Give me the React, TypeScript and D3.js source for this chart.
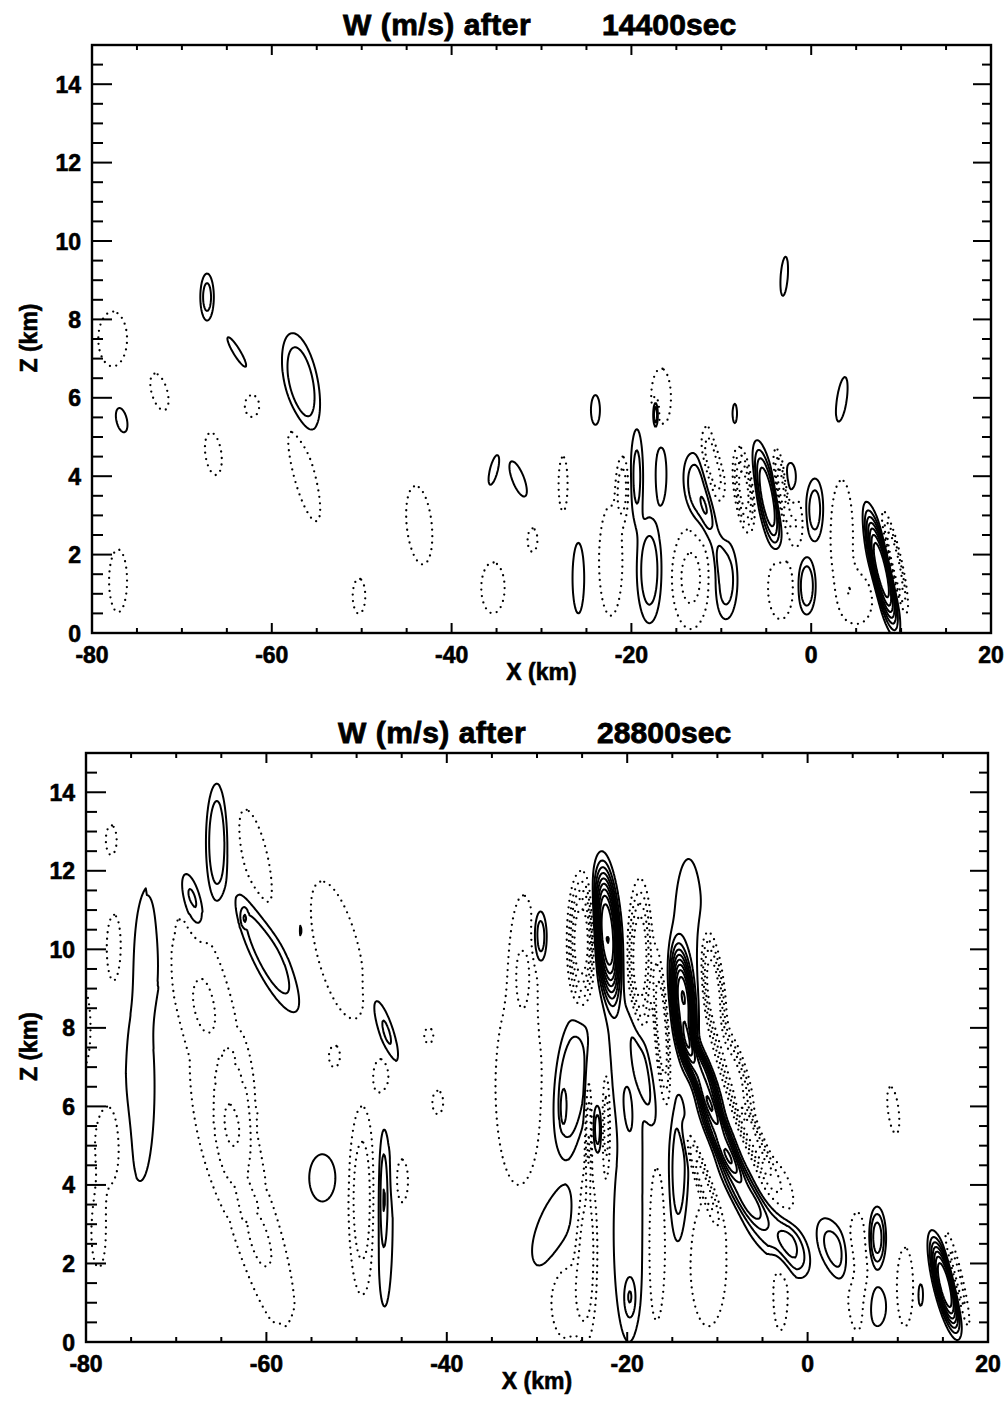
import React, { useMemo } from "react";
import * as d3 from "d3";

type Cell = [number, number, number, number, number, number];

// Axis tick values
const X_MAJOR = [-80, -60, -40, -20, 0, 20];
const X_MINOR = [-75, -70, -65, -55, -50, -45, -35, -30, -25, -15, -10, -5, 5, 10, 15];
const Z_MAJOR = [0, 2, 4, 6, 8, 10, 12, 14];
const Z_MINOR = [0.5, 1, 1.5, 2.5, 3, 3.5, 4.5, 5, 5.5, 6.5, 7, 7.5, 8.5, 9, 9.5, 10.5, 11, 11.5, 12.5, 13, 13.5, 14.5];

// contour levels (m/s); negative levels are drawn dotted
const POS_LEVELS = [1, 2, 3, 4, 5, 6, 7, 8, 9, 10, 11, 12];
const NEG_LEVELS = [1, 2, 3, 4, 5, 6, 7, 8];

// W features:
// [x km, z km, outer half-width km, outer half-height km, peak (contour count, negative = downdraft), tilt dx/dz]
const CELLS_14400: Cell[] = [
  [-67.2, 8.57, 0.75, 0.6, 2.4, 0],
  [-77.7, 7.5, 1.6, 0.7, -1.5, 0],
  [-76.7, 5.43, 0.6, 0.31, 1.5, -0.8],
  [-72.5, 6.15, 0.9, 0.47, -1.5, -1],
  [-63.9, 7.17, 0.45, 0.38, 1.5, -2.5],
  [-62.2, 5.79, 0.8, 0.28, -1.5, 0],
  [-56.75, 6.4, 1.9, 1.25, 2.95, -0.75],
  [-66.5, 4.57, 0.9, 0.54, -1.5, -0.5],
  [-56.4, 4.05, 1.2, 1.2, -1.5, -1.1],
  [-43.6, 2.75, 1.4, 1.0, -1.4, -0.4],
  [-50.3, 0.94, 0.7, 0.45, -1.4, 0],
  [-77.1, 1.33, 1.0, 0.8, -1.5, 0],
  [-35.3, 4.16, 0.45, 0.38, 1.5, 1.0],
  [-32.6, 3.93, 0.7, 0.45, 1.5, -1.5],
  [-35.4, 1.15, 1.3, 0.65, -1.4, 0],
  [-31.0, 2.37, 0.55, 0.3, -1.3, 0],
  [-27.6, 3.8, 0.5, 0.7, -1.6, 0],
  [-25.9, 1.4, 0.65, 0.9, 1.5, 0],
  [-24.0, 5.69, 0.5, 0.38, 1.5, 0],
  [-22.3, 1.84, 1.3, 1.4, -1.8, 0],
  [-21.0, 3.7, 0.7, 0.8, -2.4, 0],
  [-19.4, 4.0, 0.7, 1.2, 2.3, 0],
  [-18.0, 1.6, 1.4, 1.35, 2.6, 0],
  [-16.7, 4.05, 0.6, 0.75, 1.5, 0],
  [-16.7, 6.0, 1.1, 0.75, -1.8, 0],
  [-17.3, 5.6, 0.35, 0.4, 4, 0],
  [-13.4, 1.4, 2.1, 1.3, -2.2, 0],
  [-12.5, 3.6, 1.6, 1.0, 2.9, -0.6],
  [-10.9, 2.45, 0.6, 0.6, 1.4, -1],
  [-9.5, 1.35, 1.3, 1.0, 2.5, 0],
  [-10.9, 4.3, 1.3, 1.0, -3, -0.5],
  [-10.25, 4.85, 0.6, 0.6, 1.5, -0.5],
  [-8.5, 5.6, 0.25, 0.25, 1.4, 0],
  [-4.9, 3.47, 1.2, 1.45, 5, -0.77],
  [-7.5, 3.65, 1.1, 1.1, -4.5, -0.5],
  [-3.3, 3.7, 0.7, 1.0, -3.5, -0.6],
  [-2.3, 3.97, 0.6, 0.37, 1.5, 0],
  [-1.7, 2.8, 0.8, 0.6, -2, 0],
  [0.4, 3.14, 1.0, 0.8, 2.5, 0],
  [-3.4, 1.15, 1.4, 0.8, -2, 0],
  [-0.5, 1.2, 1.0, 0.73, 2.8, 0],
  [3.4, 2.45, 1.25, 1.45, -1.5, 0],
  [3.4, 5.95, 0.55, 0.58, 1.5, 0.6],
  [-3.0, 9.1, 0.4, 0.5, 1.4, 0.3],
  [7.8, 1.6, 1.3, 1.75, 8, -0.95],
  [9.3, 1.8, 0.8, 1.3, -4, -0.95],
  [5.3, 0.85, 1.5, 0.6, -1.5, 0],
];

const CELLS_28800: Cell[] = [
  [-77.2, 12.78, 0.6, 0.38, -1.4, 0],
  [-76.9, 10.03, 0.8, 0.85, -1.4, 0],
  [-72.9, 10.3, 1.4, 1.3, 1.5, 0],
  [-74.0, 6.5, 1.6, 2.4, 1.5, 0],
  [-77.5, 5.0, 1.5, 1.0, -1.5, 0],
  [-78.6, 2.8, 0.8, 0.9, -1.5, 0],
  [-80.3, 8.0, 0.8, 1.0, -1.3, 0],
  [-68.2, 11.18, 1.1, 0.8, 2.6, -1.0],
  [-65.5, 12.73, 1.2, 1.49, 2.9, 0],
  [-61.2, 12.3, 1.4, 1.26, -1.4, -0.9],
  [-59.9, 9.93, 2.0, 1.53, 2.8, -1.9],
  [-62.5, 10.8, 0.25, 0.15, 1.2, 0],
  [-56.2, 10.5, 0.2, 0.25, 1.5, 0],
  [-52.1, 9.98, 2.4, 1.75, -1.4, -1.0],
  [-68.3, 9.5, 1.9, 1.3, -1.2, -1.0],
  [-65.3, 7.0, 2.4, 1.8, -1.2, -0.6],
  [-62.8, 4.0, 2.2, 1.6, -1.2, -1.2],
  [-59.5, 1.7, 1.5, 1.3, -1.2, -1.2],
  [-63.4, 6.0, 1.1, 0.9, -1.15, 0],
  [-53.8, 4.18, 1.45, 0.6, 1.5, 0],
  [-46.9, 8.0, 0.9, 0.85, 2.3, -1.4],
  [-47.2, 6.7, 0.8, 0.45, -1.4, 0],
  [-52.5, 7.25, 0.55, 0.25, -1.3, 0],
  [-42.0, 7.8, 0.5, 0.2, -1.3, 0],
  [-41.0, 6.1, 0.6, 0.3, -1.3, 0],
  [-46.9, 3.1, 0.9, 2.2, 1.6, 0],
  [-47.0, 3.7, 0.3, 0.9, 1.5, 0],
  [-49.4, 3.6, 1.5, 2.4, -2.5, 0],
  [-45.0, 4.1, 0.7, 0.55, -1.4, 0],
  // central storm complex: updrafts
  [-29.7, 10.3, 0.8, 0.72, 2.9, 0],
  [-22.2, 10.4, 1.7, 2.1, 10, -0.3],
  [-13.2, 10.4, 1.6, 1.9, 1.6, 0],
  [-13.8, 8.6, 1.5, 1.7, 9, -0.4],
  [-11.8, 6.8, 1.5, 1.3, 7, -1.6],
  [-9.8, 5.3, 1.5, 1.2, 6, -1.8],
  [-7.5, 4.0, 1.8, 1.0, 4, -2],
  [-4.3, 2.9, 2.4, 0.85, 2.6, -2],
  [-1.5, 2.3, 1.6, 0.65, 2.2, -1],
  [3.0, 2.35, 1.7, 0.8, 2.4, -1.3],
  [7.7, 2.65, 1.0, 0.8, 3.5, 0],
  [7.7, 0.9, 1.0, 0.5, 1.5, 0],
  [12.5, 1.2, 0.3, 0.3, 1.4, 0],
  [15.2, 1.45, 1.3, 1.4, 8, -1.0],
  [-26.2, 6.5, 2.1, 1.85, 2.9, 0.4],
  [-27.1, 5.95, 0.2, 0.3, 1.3, 0],
  [-23.3, 5.4, 0.45, 0.6, 2.5, 0],
  [-28.4, 2.9, 2.0, 1.0, 1.8, 1.3],
  [-19.8, 2.8, 1.7, 2.8, 1.6, 0],
  [-19.7, 1.1, 0.5, 0.4, 1.6, 0],
  [-14.3, 4.4, 1.1, 1.9, 2.5, 0],
  [-20.5, 7.0, 1.3, 1.5, 1.5, -0.5],
  [-18.3, 7.0, 0.9, 1.5, 2.2, -0.8],
  // central storm complex: downdrafts
  [-31.5, 10.0, 1.2, 1.3, -1.5, 0],
  [-25.1, 10.2, 1.6, 1.8, -6, 0],
  [-18.6, 9.8, 1.4, 2.0, -5, 0],
  [-16.2, 8.0, 0.8, 2.0, -4, -0.3],
  [-10.5, 9.0, 1.3, 1.6, -5, -0.5],
  [-8.1, 6.8, 1.5, 1.3, -4.5, -1.2],
  [-6.1, 5.2, 1.2, 1.0, -4, -1.8],
  [-3.5, 4.0, 1.6, 0.7, -2, -1.5],
  [-11.9, 4.3, 0.8, 1.2, -3, -1.5],
  [-32.0, 6.5, 2.6, 2.5, -1.5, 0],
  [-26.8, 1.0, 1.6, 0.9, -1.5, 0],
  [-24.5, 2.3, 1.2, 2.2, -2.5, 0],
  [-24.3, 5.6, 0.4, 1.6, -3, 0],
  [-22.3, 5.5, 0.45, 1.5, -2.5, 0],
  [-16.8, 2.5, 1.0, 2.0, -2, 0],
  [-11.0, 2.0, 2.0, 1.6, -1.8, 0],
  [-3.0, 1.2, 0.8, 0.9, -1.3, 0],
  [5.5, 1.8, 1.2, 1.5, -1.8, 0],
  [10.8, 1.4, 0.9, 1.0, -1.5, 0],
  [16.6, 1.6, 0.6, 1.2, -2.5, -1.0],
  [9.5, 5.9, 0.6, 0.6, -1.2, -0.5],
];

const NX = 801;
const NZ = 376;
const XMIN = -80;
const XMAX = 20;
const ZMAX = 15;
const DXK = (XMAX - XMIN) / (NX - 1);
const DZK = ZMAX / (NZ - 1);

function buildField(cells: Cell[]) {
  const v = new Float64Array(NX * NZ);
  for (const [xc, zc, rx, rz, a, tilt] of cells) {
    const la = Math.log(Math.abs(a));
    const j0 = Math.max(0, Math.floor((zc - 2.2 * rz) / DZK));
    const j1 = Math.min(NZ - 1, Math.ceil((zc + 2.2 * rz) / DZK));
    for (let j = j0; j <= j1; j++) {
      const z = j * DZK;
      const dz = (z - zc) / rz;
      if (Math.abs(dz) > 2.2) continue;
      const xs = xc + tilt * (z - zc);
      const i0 = Math.max(0, Math.floor((xs - 2.2 * rx - XMIN) / DXK));
      const i1 = Math.min(NX - 1, Math.ceil((xs + 2.2 * rx - XMIN) / DXK));
      for (let i = i0; i <= i1; i++) {
        const x = XMIN + i * DXK;
        const u = (x - xs) / rx;
        const r2 = u * u + dz * dz;
        if (r2 > 4.84) continue;
        const r = Math.sqrt(r2);
        v[j * NX + i] += a * Math.exp(-la * r2 * r);
      }
    }
  }
  return v;
}

const FONT = "'Liberation Sans', Arial, Helvetica, sans-serif";

function Panel(props: {
  id: string;
  left: number;
  right: number;
  top: number;
  bottom: number;
  cells: Cell[];
  time: string;
  titleX: number;
  timeX: number;
  titleY: number;
}) {
  const { id, left, right, top, bottom, cells, time, titleX, timeX, titleY } = props;
  const x = d3.scaleLinear().domain([XMIN, XMAX]).range([left, right]);
  const y = d3.scaleLinear().domain([0, ZMAX]).range([bottom, top]);

  const { pos, neg } = useMemo(() => {
    const f = buildField(cells);
    const nf = f.map((d) => -d);
    const gen = d3.contours().size([NX, NZ]).smooth(true);
    return {
      pos: gen.thresholds(POS_LEVELS)(Array.from(f)),
      neg: gen.thresholds(NEG_LEVELS)(Array.from(nf)),
    };
  }, [cells]);

  const proj = d3.geoTransform({
    point: function (px: number, py: number) {
      (this as any).stream.point(x(XMIN + (px - 0.5) * DXK), y((py - 0.5) * DZK));
    },
  });
  const path = d3.geoPath(proj);

  const midX = (left + right) / 2;
  const midY = (top + bottom) / 2;

  return (
    <g>
      <defs>
        <clipPath id={`clip-${id}`}>
          <rect x={left} y={top} width={right - left} height={bottom - top} />
        </clipPath>
      </defs>
      <g clipPath={`url(#clip-${id})`}>
        {neg.map((c, k) => (
          <path
            key={"n" + k}
            d={path(c as any) || ""}
            fill="none"
            stroke="#000"
            strokeWidth={2.3}
            strokeDasharray="0 6.5"
            strokeLinecap="round"
          />
        ))}
        {pos.map((c, k) => (
          <path
            key={"p" + k}
            d={path(c as any) || ""}
            fill="none"
            stroke="#000"
            strokeWidth={2}
            strokeLinejoin="round"
          />
        ))}
      </g>
      {/* frame */}
      <rect x={left} y={top} width={right - left} height={bottom - top} fill="none" stroke="#000" strokeWidth={2.4} />
      {/* ticks */}
      <g stroke="#000" strokeWidth={2}>
        {Z_MAJOR.map((v) => (
          <g key={"zm" + v}>
            <line x1={left} x2={left + 20} y1={y(v)} y2={y(v)} />
            <line x1={right} x2={right - 18} y1={y(v)} y2={y(v)} />
          </g>
        ))}
        {Z_MINOR.map((v) => (
          <g key={"zn" + v}>
            <line x1={left} x2={left + 11} y1={y(v)} y2={y(v)} />
            <line x1={right} x2={right - 9} y1={y(v)} y2={y(v)} />
          </g>
        ))}
        {X_MAJOR.map((v) => (
          <g key={"xm" + v}>
            <line x1={x(v)} x2={x(v)} y1={bottom} y2={bottom - 10} />
            <line x1={x(v)} x2={x(v)} y1={top} y2={top + 10} />
          </g>
        ))}
        {X_MINOR.map((v) => (
          <g key={"xn" + v}>
            <line x1={x(v)} x2={x(v)} y1={bottom} y2={bottom - 5} />
            <line x1={x(v)} x2={x(v)} y1={top} y2={top + 5} />
          </g>
        ))}
      </g>
      <g fontFamily={FONT} fontWeight="bold" fill="#000" stroke="#000" strokeWidth={0.6}>
        {Z_MAJOR.map((v) => (
          <text key={"zl" + v} x={left - 11} y={y(v) + 8.5} fontSize={23} textAnchor="end">
            {v}
          </text>
        ))}
        {X_MAJOR.map((v) => (
          <text key={"xl" + v} x={x(v)} y={bottom + 30} fontSize={23} textAnchor="middle">
            {v}
          </text>
        ))}
        <text x={midX} y={bottom + 47} fontSize={23} textAnchor="middle">
          X (km)
        </text>
        <text
          x={0}
          y={0}
          fontSize={23}
          textAnchor="middle"
          transform={`translate(37, ${midY - 1}) rotate(-90)`}
        >
          Z (km)
        </text>
        <text x={titleX} y={titleY} fontSize={30} letterSpacing={0.5} strokeWidth={0.8}>
          W (m/s) after
        </text>
        <text x={timeX} y={titleY} fontSize={30} letterSpacing={0.1} strokeWidth={0.8}>
          {time}
        </text>
      </g>
    </g>
  );
}

export default function App() {
  return (
    <svg
      width={1008}
      height={1405}
      viewBox="0 0 1008 1405"
      style={{ position: "absolute", left: 0, top: 0, background: "#fff" }}
    >
      <rect x={0} y={0} width={1008} height={1405} fill="#fff" />
      <Panel
        id="a"
        left={92}
        right={991}
        top={45}
        bottom={633}
        cells={CELLS_14400}
        time="14400sec"
        titleX={343}
        timeX={602}
        titleY={35}
      />
      <Panel
        id="b"
        left={86}
        right={988}
        top={753}
        bottom={1342}
        cells={CELLS_28800}
        time="28800sec"
        titleX={338}
        timeX={597}
        titleY={743}
      />
    </svg>
  );
}
